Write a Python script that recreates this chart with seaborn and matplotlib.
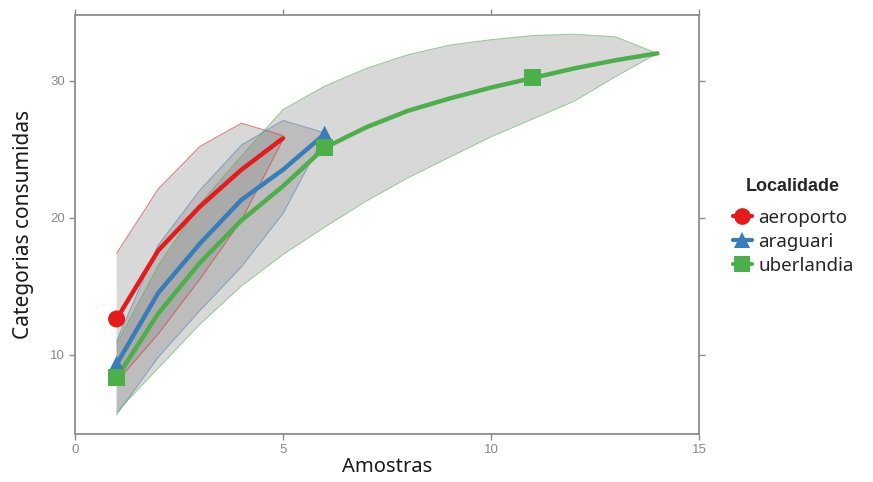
import matplotlib
matplotlib.use("Agg")
import matplotlib.pyplot as plt
from matplotlib.lines import Line2D
from matplotlib.font_manager import FontProperties
import seaborn as sns
import pandas as pd

# ---- data ----
groups = ["aeroporto", "araguari", "uberlandia"]
colors = ["#E41A1C", "#377EB8", "#4DAF4A"]
markers = ["o", "^", "s"]

x_aero = [1, 2, 3, 4, 5]
y_aero = [12.6, 17.6, 20.8, 23.5, 25.8]
lo_aero = [8.0, 11.5, 15.5, 19.8, 25.7]
hi_aero = [17.4, 22.1, 25.2, 26.9, 26.0]

x_arag = [1, 2, 3, 4, 5, 6]
y_arag = [9.3, 14.5, 18.1, 21.3, 23.5, 26.1]
lo_arag = [5.6, 9.8, 13.2, 16.4, 20.3, 26.0]
hi_arag = [11.0, 18.0, 22.0, 25.3, 27.1, 26.2]

x_uber = [1, 2, 3, 4, 5, 6, 7, 8, 9, 10, 11, 12, 13, 14]
y_uber = [8.3, 13.0, 16.7, 19.8, 22.3, 25.1, 26.6, 27.8, 28.7, 29.5, 30.2, 30.9, 31.5, 32.0]
lo_uber = [5.8, 9.0, 12.2, 15.0, 17.3, 19.3, 21.2, 22.9, 24.4, 25.9, 27.2, 28.5, 30.3, 32.0]
hi_uber = [10.8, 16.5, 21.0, 24.5, 27.9, 29.6, 30.9, 31.9, 32.6, 33.0, 33.3, 33.4, 33.2, 32.0]

# observed / reference points (markers)
pt_group = ["aeroporto", "araguari", "araguari", "uberlandia", "uberlandia", "uberlandia"]
pt_x = [1, 1, 6, 1, 6, 11]
pt_y = [12.6, 9.3, 26.1, 8.3, 25.1, 30.2]

xs = [x_aero, x_arag, x_uber]
ys = [y_aero, y_arag, y_uber]
los = [lo_aero, lo_arag, lo_uber]
his = [hi_aero, hi_arag, hi_uber]

rows = []
for g, xx, yy in zip(groups, xs, ys):
    for a, b in zip(xx, yy):
        rows.append({"Localidade": g, "Amostras": a, "Categorias": b})
df = pd.DataFrame(rows)
pts = pd.DataFrame({"Localidade": pt_group, "Amostras": pt_x, "Categorias": pt_y})

sns.set_style("white")
plt.rcParams["font.family"] = ["Liberation Sans", "DejaVu Sans"]

fig = plt.figure(figsize=(8.73, 4.82), dpi=100)
ax = fig.add_axes([75 / 873, 1 - 434 / 482, 624 / 873, 419 / 482])

# ribbons
for g, c, xx, lo, hi in zip(groups, colors, xs, los, his):
    ax.fill_between(xx, lo, hi, facecolor="#808080", alpha=0.30, edgecolor="none", zorder=1)
    ax.plot(xx, lo, color=c, lw=0.7, alpha=0.55, zorder=1.5)
    ax.plot(xx, hi, color=c, lw=0.7, alpha=0.55, zorder=1.5)

pal = dict(zip(groups, colors))
sns.lineplot(data=df, x="Amostras", y="Categorias", hue="Localidade", palette=pal,
             lw=3.2, ax=ax, legend=False, zorder=3, sort=True)
sns.scatterplot(data=pts, x="Amostras", y="Categorias", hue="Localidade", style="Localidade",
                palette=pal, markers=dict(zip(groups, markers)), s=150, linewidth=0,
                ax=ax, legend=False, zorder=4)

ax.set_xlim(0, 15)
ax.set_ylim(4.2, 34.8)
ax.set_xticks([0, 5, 10, 15])
ax.set_yticks([10, 20, 30])
for s in ax.spines.values():
    s.set_color("#8c8c8c")
    s.set_linewidth(1.3)
ax.tick_params(axis="both", which="both", direction="out", length=4, width=1,
               color="#8c8c8c", labelcolor="#8a8a8a", labelsize=9.5,
               top=True, right=True, bottom=True, left=True, pad=3)

ax.set_xlabel("Amostras", fontsize=14.5, color="#1a1a1a", family=["Noto Sans", "DejaVu Sans"], labelpad=1)
ax.set_ylabel("Categorias consumidas", fontsize=15, color="#1a1a1a", family=["Noto Sans", "DejaVu Sans"], labelpad=12)

handles = [Line2D([], [], color=c, marker=m, lw=3, markersize=12, markeredgewidth=0)
           for c, m in zip(colors, markers)]
leg = fig.legend(handles, groups, title="Localidade", loc="upper left",
                 bbox_to_anchor=(716 / 873, 1 - 161 / 482), frameon=False,
                 handlelength=1.0, handletextpad=0.35, labelspacing=0.32,
                 prop={"family": ["Noto Sans", "DejaVu Sans"], "size": 13.5},
                 title_fontproperties=FontProperties(family=["Liberation Sans", "DejaVu Sans"],
                                                     weight="bold", size=13))
leg._legend_box.sep = 10

fig.savefig("out.png", dpi=100)
